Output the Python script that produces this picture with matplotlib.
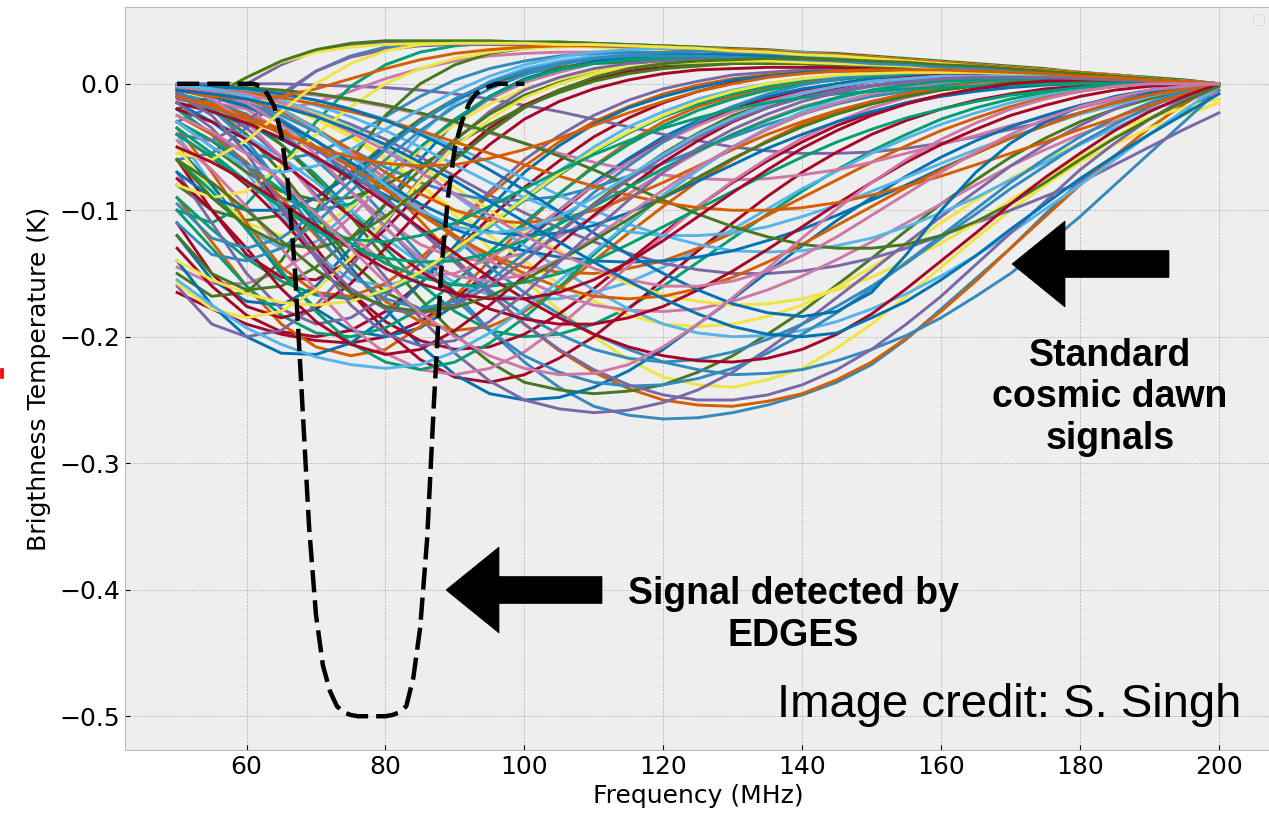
import matplotlib
matplotlib.use("Agg")
import matplotlib.pyplot as plt
from matplotlib.patches import Polygon, Rectangle

FREQ = [50, 55, 60, 65, 70, 75, 80, 85, 90, 95, 100,
        105, 110, 115, 120, 125, 130, 135, 140, 145, 150,
        160, 170, 180, 190, 200]
# extra read-off points in the upper band
MID_FREQ = [155, 165, 175, 185, 195]

# brightness temperature (K) of the standard cosmic dawn signals
SIGNALS = [
    [-0.004, -0.008, -0.016, -0.03, -0.05, -0.075, -0.105, -0.135, -0.165, -0.195, -0.22, -0.24, -0.255, -0.262, -0.265, -0.264, -0.26, -0.254, -0.246, -0.236, -0.222, -0.178, -0.13, -0.077, -0.04, -0.005],
    [-0.165, -0.178, -0.19, -0.198, -0.203, -0.205, -0.2, -0.188, -0.17, -0.148, -0.125, -0.102, -0.08, -0.061, -0.045, -0.031, -0.02, -0.012, -0.005, 0.0, 0.004, 0.008, 0.008, 0.006, 0.003, 0.0],
    [-0.03, -0.018, 0.0, 0.015, 0.026, 0.031, 0.033, 0.033, 0.033, 0.033, 0.032, 0.032, 0.031, 0.03, 0.029, 0.028, 0.027, 0.026, 0.024, 0.023, 0.021, 0.017, 0.013, 0.009, 0.005, 0.0],
    [-0.01, -0.02, -0.04, -0.07, -0.105, -0.14, -0.165, -0.178, -0.175, -0.16, -0.14, -0.117, -0.095, -0.074, -0.055, -0.039, -0.025, -0.016, -0.008, -0.003, 0.002, 0.006, 0.007, 0.006, 0.003, 0.0],
    [-0.002, -0.005, -0.01, -0.02, -0.035, -0.055, -0.08, -0.108, -0.138, -0.165, -0.19, -0.211, -0.228, -0.241, -0.25, -0.254, -0.255, -0.251, -0.245, -0.234, -0.22, -0.18, -0.13, -0.08, -0.035, 0.0],
    [-0.145, -0.158, -0.158, -0.148, -0.13, -0.105, -0.078, -0.052, -0.03, -0.012, 0.001, 0.009, 0.016, 0.019, 0.021, 0.022, 0.021, 0.02, 0.019, 0.018, 0.016, 0.013, 0.01, 0.006, 0.003, 0.0],
    [-0.04, -0.08, -0.115, -0.13, -0.125, -0.1, -0.07, -0.04, -0.015, 0.002, 0.012, 0.018, 0.022, 0.024, 0.025, 0.025, 0.024, 0.023, 0.022, 0.021, 0.019, 0.015, 0.011, 0.008, 0.004, 0.0],
    [-0.01, -0.018, -0.03, -0.048, -0.072, -0.1, -0.13, -0.158, -0.18, -0.195, -0.2, -0.198, -0.19, -0.177, -0.16, -0.141, -0.122, -0.103, -0.085, -0.068, -0.053, -0.028, -0.012, -0.003, 0.0, 0.0],
    [-0.001, -0.003, -0.007, -0.014, -0.025, -0.04, -0.058, -0.08, -0.104, -0.13, -0.155, -0.179, -0.2, -0.218, -0.232, -0.238, -0.24, -0.234, -0.225, -0.209, -0.19, -0.145, -0.1, -0.062, -0.035, -0.015],
    [-0.05, -0.08, -0.115, -0.15, -0.178, -0.195, -0.2, -0.193, -0.175, -0.15, -0.125, -0.1, -0.078, -0.059, -0.042, -0.029, -0.018, -0.01, -0.004, 0.0, 0.004, 0.007, 0.007, 0.005, 0.003, 0.0],
    [-0.06, -0.055, -0.035, -0.01, 0.01, 0.022, 0.029, 0.032, 0.033, 0.033, 0.033, 0.033, 0.032, 0.031, 0.03, 0.029, 0.027, 0.026, 0.024, 0.022, 0.02, 0.016, 0.012, 0.008, 0.004, 0.0],
    [-0.13, -0.16, -0.183, -0.196, -0.2, -0.195, -0.18, -0.158, -0.132, -0.106, -0.082, -0.061, -0.042, -0.027, -0.015, -0.006, 0.001, 0.006, 0.009, 0.011, 0.012, 0.011, 0.009, 0.006, 0.003, 0.0],
    [0.0, 0.0, 0.0, 0.0, -0.001, -0.002, -0.003, -0.005, -0.008, -0.012, -0.017, -0.022, -0.028, -0.034, -0.04, -0.045, -0.05, -0.053, -0.055, -0.055, -0.054, -0.047, -0.036, -0.023, -0.01, 0.0],
    [-0.008, -0.015, -0.028, -0.048, -0.075, -0.105, -0.138, -0.17, -0.198, -0.22, -0.236, -0.242, -0.245, -0.243, -0.238, -0.228, -0.215, -0.198, -0.18, -0.159, -0.138, -0.095, -0.058, -0.03, -0.012, 0.0],
    [-0.09, -0.125, -0.16, -0.19, -0.208, -0.215, -0.21, -0.192, -0.168, -0.14, -0.112, -0.087, -0.065, -0.046, -0.03, -0.018, -0.01, -0.003, 0.002, 0.005, 0.008, 0.009, 0.008, 0.006, 0.003, 0.0],
    [-0.008, -0.015, -0.02, -0.02, -0.015, -0.006, 0.004, 0.012, 0.018, 0.022, 0.024, 0.025, 0.025, 0.025, 0.024, 0.023, 0.022, 0.021, 0.019, 0.018, 0.016, 0.013, 0.01, 0.006, 0.003, 0.0],
    [-0.02, -0.03, -0.042, -0.058, -0.078, -0.1, -0.122, -0.142, -0.157, -0.167, -0.17, -0.17, -0.165, -0.157, -0.145, -0.131, -0.115, -0.099, -0.083, -0.069, -0.055, -0.032, -0.015, -0.005, 0.0, 0.0],
    [-0.09, -0.115, -0.138, -0.156, -0.167, -0.17, -0.165, -0.152, -0.134, -0.113, -0.092, -0.072, -0.054, -0.039, -0.026, -0.016, -0.008, -0.002, 0.003, 0.006, 0.008, 0.009, 0.008, 0.006, 0.003, 0.0],
    [-0.002, -0.004, -0.009, -0.017, -0.028, -0.042, -0.06, -0.08, -0.1, -0.12, -0.14, -0.158, -0.172, -0.183, -0.19, -0.192, -0.19, -0.184, -0.175, -0.161, -0.145, -0.11, -0.075, -0.047, -0.027, -0.012],
    [-0.12, -0.155, -0.172, -0.175, -0.16, -0.13, -0.095, -0.06, -0.03, -0.01, 0.004, 0.012, 0.018, 0.021, 0.022, 0.022, 0.022, 0.021, 0.02, 0.019, 0.017, 0.014, 0.01, 0.007, 0.003, 0.0],
    [-0.003, -0.006, -0.012, -0.022, -0.036, -0.054, -0.075, -0.098, -0.122, -0.145, -0.165, -0.182, -0.198, -0.21, -0.22, -0.226, -0.23, -0.229, -0.226, -0.219, -0.21, -0.185, -0.15, -0.105, -0.055, -0.005],
    [-0.03, -0.045, -0.065, -0.095, -0.13, -0.165, -0.195, -0.218, -0.232, -0.236, -0.23, -0.217, -0.2, -0.178, -0.155, -0.132, -0.11, -0.089, -0.07, -0.054, -0.04, -0.02, -0.008, -0.002, 0.0, 0.0],
    [-0.002, -0.004, -0.008, -0.014, -0.022, -0.032, -0.044, -0.058, -0.073, -0.088, -0.102, -0.114, -0.125, -0.134, -0.142, -0.147, -0.15, -0.15, -0.148, -0.144, -0.138, -0.12, -0.1, -0.078, -0.05, -0.023],
    [-0.08, -0.1, -0.108, -0.104, -0.09, -0.07, -0.048, -0.028, -0.012, 0.0, 0.008, 0.013, 0.016, 0.017, 0.018, 0.018, 0.018, 0.017, 0.016, 0.015, 0.014, 0.011, 0.008, 0.006, 0.003, 0.0],
    [-0.005, -0.01, -0.018, -0.03, -0.045, -0.063, -0.083, -0.103, -0.121, -0.135, -0.145, -0.149, -0.15, -0.146, -0.14, -0.13, -0.118, -0.104, -0.09, -0.076, -0.062, -0.037, -0.018, -0.006, 0.0, 0.0],
    [-0.002, -0.003, -0.004, -0.006, -0.009, -0.013, -0.018, -0.024, -0.031, -0.039, -0.047, -0.055, -0.062, -0.068, -0.072, -0.075, -0.076, -0.075, -0.072, -0.068, -0.062, -0.048, -0.033, -0.019, -0.007, 0.0],
    [-0.02, -0.04, -0.07, -0.105, -0.135, -0.155, -0.16, -0.152, -0.135, -0.112, -0.09, -0.069, -0.05, -0.034, -0.022, -0.012, -0.005, 0.0, 0.004, 0.006, 0.008, 0.009, 0.008, 0.006, 0.003, 0.0],
    [-0.1, -0.11, -0.095, -0.065, -0.03, -0.002, 0.015, 0.025, 0.03, 0.032, 0.032, 0.032, 0.031, 0.03, 0.029, 0.028, 0.026, 0.025, 0.023, 0.021, 0.019, 0.015, 0.011, 0.007, 0.004, 0.0],
    [-0.05, -0.085, -0.11, -0.12, -0.115, -0.098, -0.075, -0.052, -0.032, -0.016, -0.004, 0.004, 0.01, 0.013, 0.015, 0.016, 0.016, 0.016, 0.015, 0.014, 0.013, 0.011, 0.008, 0.005, 0.003, 0.0],
    [-0.015, -0.03, -0.05, -0.078, -0.11, -0.145, -0.178, -0.207, -0.23, -0.245, -0.25, -0.248, -0.24, -0.227, -0.21, -0.19, -0.17, -0.149, -0.128, -0.108, -0.09, -0.058, -0.034, -0.017, -0.006, 0.0],
    [-0.02, -0.04, -0.055, -0.06, -0.055, -0.042, -0.026, -0.01, 0.003, 0.012, 0.018, 0.022, 0.024, 0.025, 0.025, 0.025, 0.024, 0.023, 0.021, 0.02, 0.018, 0.014, 0.011, 0.007, 0.003, 0.0],
    [-0.04, -0.058, -0.08, -0.107, -0.137, -0.165, -0.188, -0.203, -0.21, -0.208, -0.198, -0.182, -0.162, -0.14, -0.118, -0.097, -0.078, -0.061, -0.046, -0.033, -0.023, -0.009, -0.001, 0.002, 0.001, 0.0],
    [-0.07, -0.11, -0.15, -0.178, -0.19, -0.185, -0.168, -0.142, -0.113, -0.085, -0.06, -0.041, -0.025, -0.013, -0.004, 0.002, 0.007, 0.009, 0.011, 0.012, 0.012, 0.011, 0.009, 0.006, 0.003, 0.0],
    [-0.15, -0.168, -0.165, -0.14, -0.1, -0.06, -0.025, 0.0, 0.015, 0.024, 0.028, 0.03, 0.03, 0.029, 0.028, 0.027, 0.025, 0.024, 0.022, 0.02, 0.018, 0.014, 0.01, 0.007, 0.003, 0.0],
    [-0.035, -0.07, -0.11, -0.145, -0.165, -0.168, -0.158, -0.138, -0.113, -0.088, -0.065, -0.046, -0.03, -0.018, -0.008, -0.001, 0.004, 0.007, 0.009, 0.01, 0.01, 0.009, 0.008, 0.005, 0.003, 0.0],
    [-0.003, -0.006, -0.012, -0.022, -0.036, -0.054, -0.075, -0.098, -0.12, -0.14, -0.155, -0.167, -0.175, -0.179, -0.18, -0.178, -0.172, -0.163, -0.152, -0.139, -0.125, -0.095, -0.065, -0.04, -0.02, -0.007],
    [-0.001, -0.003, -0.007, -0.013, -0.022, -0.034, -0.05, -0.068, -0.088, -0.108, -0.128, -0.146, -0.163, -0.178, -0.19, -0.197, -0.2, -0.199, -0.195, -0.188, -0.178, -0.152, -0.118, -0.08, -0.04, -0.002],
    [-0.02, -0.04, -0.065, -0.09, -0.1, -0.095, -0.075, -0.05, -0.028, -0.01, 0.003, 0.011, 0.016, 0.019, 0.02, 0.02, 0.02, 0.019, 0.018, 0.017, 0.016, 0.013, 0.01, 0.007, 0.003, 0.0],
    [-0.003, -0.005, -0.009, -0.015, -0.024, -0.035, -0.049, -0.065, -0.082, -0.1, -0.117, -0.132, -0.146, -0.158, -0.167, -0.172, -0.175, -0.174, -0.17, -0.163, -0.153, -0.126, -0.092, -0.058, -0.027, -0.001],
    [-0.14, -0.175, -0.2, -0.213, -0.214, -0.205, -0.185, -0.158, -0.128, -0.098, -0.07, -0.049, -0.032, -0.019, -0.01, -0.003, 0.003, 0.006, 0.009, 0.01, 0.011, 0.01, 0.008, 0.006, 0.003, 0.0],
    [-0.004, -0.008, -0.015, -0.025, -0.038, -0.052, -0.066, -0.078, -0.087, -0.092, -0.092, -0.089, -0.082, -0.073, -0.063, -0.052, -0.042, -0.032, -0.024, -0.016, -0.01, -0.002, 0.002, 0.002, 0.001, 0.0],
    [-0.06, -0.1, -0.135, -0.153, -0.155, -0.14, -0.115, -0.086, -0.058, -0.035, -0.017, -0.005, 0.004, 0.01, 0.013, 0.015, 0.016, 0.016, 0.016, 0.015, 0.014, 0.012, 0.009, 0.006, 0.003, 0.0],
    [-0.01, -0.02, -0.035, -0.058, -0.088, -0.12, -0.153, -0.185, -0.213, -0.235, -0.25, -0.257, -0.26, -0.258, -0.252, -0.242, -0.228, -0.21, -0.19, -0.169, -0.148, -0.105, -0.065, -0.033, -0.01, 0.0],
    [-0.03, -0.05, -0.07, -0.085, -0.092, -0.09, -0.08, -0.065, -0.048, -0.032, -0.018, -0.007, 0.002, 0.008, 0.012, 0.014, 0.016, 0.016, 0.016, 0.015, 0.014, 0.011, 0.008, 0.006, 0.003, 0.0],
    [-0.025, -0.04, -0.062, -0.09, -0.12, -0.149, -0.172, -0.188, -0.195, -0.192, -0.18, -0.162, -0.14, -0.118, -0.097, -0.077, -0.06, -0.045, -0.032, -0.022, -0.014, -0.003, 0.002, 0.003, 0.002, 0.0],
    [-0.005, -0.01, -0.02, -0.038, -0.06, -0.085, -0.108, -0.127, -0.138, -0.14, -0.134, -0.121, -0.105, -0.087, -0.07, -0.054, -0.04, -0.028, -0.018, -0.011, -0.005, 0.002, 0.005, 0.005, 0.003, 0.0],
    [-0.001, -0.002, -0.004, -0.008, -0.013, -0.02, -0.028, -0.038, -0.05, -0.062, -0.075, -0.088, -0.1, -0.111, -0.12, -0.127, -0.132, -0.133, -0.132, -0.128, -0.122, -0.102, -0.076, -0.048, -0.022, 0.0],
    [-0.1, -0.13, -0.16, -0.183, -0.197, -0.2, -0.193, -0.178, -0.157, -0.133, -0.11, -0.087, -0.066, -0.048, -0.033, -0.021, -0.012, -0.005, 0.0, 0.003, 0.006, 0.008, 0.007, 0.005, 0.003, 0.0],
    [-0.012, -0.008, 0.005, 0.017, 0.025, 0.029, 0.031, 0.032, 0.032, 0.031, 0.03, 0.03, 0.029, 0.028, 0.027, 0.026, 0.025, 0.024, 0.022, 0.021, 0.019, 0.015, 0.012, 0.008, 0.004, 0.0],
    [-0.015, -0.022, -0.032, -0.044, -0.058, -0.073, -0.088, -0.102, -0.115, -0.125, -0.132, -0.137, -0.14, -0.141, -0.14, -0.137, -0.132, -0.124, -0.115, -0.104, -0.092, -0.067, -0.043, -0.023, -0.008, 0.0],
    [-0.004, -0.008, -0.016, -0.028, -0.045, -0.066, -0.09, -0.115, -0.14, -0.163, -0.183, -0.198, -0.21, -0.217, -0.22, -0.218, -0.212, -0.202, -0.19, -0.176, -0.16, -0.122, -0.083, -0.047, -0.018, 0.0],
    [-0.11, -0.15, -0.176, -0.185, -0.178, -0.158, -0.13, -0.1, -0.072, -0.048, -0.028, -0.014, -0.004, 0.003, 0.008, 0.011, 0.012, 0.013, 0.013, 0.013, 0.012, 0.01, 0.008, 0.005, 0.003, 0.0],
    [-0.16, -0.19, -0.2, -0.195, -0.175, -0.145, -0.11, -0.075, -0.045, -0.022, -0.005, 0.005, 0.012, 0.016, 0.018, 0.019, 0.019, 0.019, 0.018, 0.017, 0.016, 0.013, 0.01, 0.006, 0.003, 0.0],
    [-0.12, -0.15, -0.163, -0.16, -0.145, -0.122, -0.095, -0.068, -0.044, -0.024, -0.009, 0.001, 0.008, 0.012, 0.015, 0.016, 0.017, 0.017, 0.016, 0.015, 0.014, 0.011, 0.008, 0.006, 0.003, 0.0],
    [-0.003, -0.006, -0.012, -0.022, -0.036, -0.052, -0.07, -0.087, -0.1, -0.108, -0.11, -0.107, -0.1, -0.09, -0.078, -0.065, -0.052, -0.04, -0.03, -0.021, -0.014, -0.004, 0.001, 0.002, 0.001, 0.0],
    [-0.045, -0.068, -0.097, -0.13, -0.163, -0.192, -0.213, -0.226, -0.23, -0.225, -0.212, -0.192, -0.168, -0.144, -0.12, -0.097, -0.077, -0.059, -0.043, -0.03, -0.019, -0.005, 0.002, 0.003, 0.002, 0.0],
    [-0.001, -0.002, -0.005, -0.01, -0.017, -0.026, -0.037, -0.05, -0.064, -0.078, -0.09, -0.101, -0.11, -0.117, -0.12, -0.12, -0.118, -0.113, -0.105, -0.096, -0.085, -0.063, -0.042, -0.024, -0.01, 0.0],
    [-0.06, -0.085, -0.115, -0.148, -0.18, -0.205, -0.22, -0.226, -0.22, -0.205, -0.185, -0.161, -0.135, -0.111, -0.088, -0.068, -0.05, -0.036, -0.024, -0.015, -0.008, 0.0, 0.003, 0.003, 0.002, 0.0],
    [-0.158, -0.178, -0.185, -0.18, -0.163, -0.138, -0.108, -0.077, -0.05, -0.028, -0.011, 0.0, 0.008, 0.013, 0.016, 0.017, 0.018, 0.018, 0.017, 0.016, 0.015, 0.012, 0.009, 0.006, 0.003, 0.0],
    [-0.07, -0.09, -0.1, -0.1, -0.09, -0.072, -0.05, -0.03, -0.013, 0.0, 0.01, 0.016, 0.02, 0.022, 0.023, 0.023, 0.023, 0.022, 0.021, 0.02, 0.018, 0.014, 0.011, 0.007, 0.003, 0.0],
    [-0.008, -0.014, -0.024, -0.04, -0.06, -0.085, -0.113, -0.142, -0.17, -0.195, -0.215, -0.228, -0.236, -0.239, -0.238, -0.233, -0.225, -0.213, -0.198, -0.181, -0.162, -0.12, -0.078, -0.042, -0.015, 0.0],
    [-0.075, -0.1, -0.13, -0.162, -0.188, -0.206, -0.214, -0.21, -0.195, -0.175, -0.152, -0.127, -0.104, -0.082, -0.062, -0.045, -0.03, -0.019, -0.01, -0.003, 0.002, 0.007, 0.007, 0.005, 0.003, 0.0],
    [-0.012, -0.018, -0.026, -0.037, -0.052, -0.07, -0.092, -0.116, -0.141, -0.166, -0.19, -0.21, -0.226, -0.238, -0.246, -0.25, -0.25, -0.246, -0.238, -0.226, -0.21, -0.168, -0.118, -0.068, -0.028, 0.0],
    [-0.02, -0.01, 0.005, 0.018, 0.027, 0.032, 0.034, 0.034, 0.034, 0.034, 0.033, 0.033, 0.032, 0.031, 0.03, 0.029, 0.028, 0.027, 0.025, 0.024, 0.022, 0.018, 0.014, 0.009, 0.005, 0.0],
    [-0.01, -0.016, -0.025, -0.036, -0.05, -0.066, -0.084, -0.102, -0.12, -0.136, -0.15, -0.161, -0.168, -0.17, -0.168, -0.162, -0.153, -0.141, -0.127, -0.112, -0.097, -0.068, -0.043, -0.023, -0.009, 0.0],
    [-0.003, -0.012, -0.03, -0.058, -0.09, -0.12, -0.142, -0.152, -0.15, -0.138, -0.12, -0.1, -0.08, -0.062, -0.046, -0.033, -0.022, -0.014, -0.007, -0.002, 0.002, 0.006, 0.006, 0.005, 0.003, 0.0],
    [-0.155, -0.175, -0.193, -0.206, -0.216, -0.222, -0.225, -0.222, -0.212, -0.197, -0.178, -0.156, -0.133, -0.11, -0.088, -0.068, -0.05, -0.035, -0.022, -0.012, -0.005, 0.003, 0.005, 0.004, 0.002, 0.0],
    [-0.03, -0.045, -0.063, -0.084, -0.106, -0.126, -0.142, -0.153, -0.159, -0.16, -0.157, -0.15, -0.14, -0.127, -0.113, -0.099, -0.085, -0.071, -0.058, -0.046, -0.036, -0.02, -0.009, -0.003, 0.0, 0.0],
    [-0.08, -0.09, -0.085, -0.065, -0.04, -0.018, 0.0, 0.012, 0.02, 0.025, 0.028, 0.029, 0.03, 0.03, 0.029, 0.028, 0.027, 0.026, 0.024, 0.022, 0.021, 0.017, 0.013, 0.009, 0.004, 0.0],
    [-0.005, -0.01, -0.018, -0.03, -0.045, -0.062, -0.079, -0.095, -0.108, -0.117, -0.12, -0.118, -0.112, -0.102, -0.09, -0.077, -0.064, -0.051, -0.04, -0.03, -0.022, -0.01, -0.003, 0.0, 0.0, 0.0],
    [-0.006, -0.02, -0.045, -0.08, -0.118, -0.15, -0.17, -0.178, -0.172, -0.156, -0.134, -0.11, -0.086, -0.065, -0.046, -0.03, -0.018, -0.008, -0.001, 0.004, 0.007, 0.009, 0.008, 0.006, 0.003, 0.0],
    [-0.02, -0.03, -0.044, -0.062, -0.083, -0.105, -0.127, -0.148, -0.165, -0.178, -0.186, -0.19, -0.19, -0.185, -0.176, -0.163, -0.148, -0.131, -0.113, -0.095, -0.078, -0.048, -0.025, -0.01, -0.002, 0.0],
    [-0.04, -0.045, -0.03, -0.008, 0.01, 0.021, 0.027, 0.03, 0.031, 0.031, 0.031, 0.031, 0.03, 0.029, 0.028, 0.027, 0.026, 0.025, 0.023, 0.021, 0.02, 0.016, 0.012, 0.008, 0.004, 0.0],
    [-0.001, -0.002, -0.003, -0.005, -0.008, -0.012, -0.017, -0.023, -0.03, -0.038, -0.047, -0.057, -0.068, -0.08, -0.092, -0.103, -0.113, -0.121, -0.127, -0.13, -0.13, -0.12, -0.095, -0.06, -0.028, -0.002],
    [-0.002, -0.004, -0.007, -0.011, -0.016, -0.022, -0.029, -0.037, -0.046, -0.055, -0.064, -0.073, -0.081, -0.088, -0.094, -0.098, -0.1, -0.1, -0.098, -0.094, -0.088, -0.073, -0.055, -0.036, -0.017, 0.0],
    [-0.002, -0.006, -0.015, -0.032, -0.056, -0.085, -0.114, -0.138, -0.152, -0.156, -0.151, -0.139, -0.122, -0.103, -0.084, -0.066, -0.05, -0.036, -0.024, -0.015, -0.008, 0.001, 0.004, 0.004, 0.002, 0.0],
    [-0.03, -0.05, -0.065, -0.07, -0.065, -0.052, -0.036, -0.02, -0.006, 0.006, 0.015, 0.021, 0.025, 0.027, 0.028, 0.028, 0.027, 0.026, 0.025, 0.023, 0.021, 0.017, 0.013, 0.009, 0.004, 0.0],
    [-0.04, -0.058, -0.078, -0.098, -0.116, -0.13, -0.138, -0.141, -0.14, -0.134, -0.124, -0.111, -0.097, -0.082, -0.067, -0.053, -0.04, -0.029, -0.019, -0.011, -0.005, 0.002, 0.004, 0.004, 0.002, 0.0],
    [-0.14, -0.155, -0.166, -0.173, -0.175, -0.172, -0.163, -0.149, -0.131, -0.111, -0.091, -0.071, -0.053, -0.038, -0.025, -0.014, -0.006, 0.0, 0.004, 0.007, 0.008, 0.009, 0.008, 0.005, 0.003, 0.0],
    [-0.001, -0.002, -0.004, -0.008, -0.013, -0.02, -0.029, -0.04, -0.053, -0.068, -0.084, -0.101, -0.118, -0.135, -0.15, -0.163, -0.174, -0.181, -0.184, -0.18, -0.165, -0.1, -0.047, -0.018, -0.005, 0.0],
    [-0.11, -0.135, -0.14, -0.13, -0.11, -0.085, -0.06, -0.037, -0.018, -0.004, 0.007, 0.015, 0.02, 0.023, 0.025, 0.026, 0.025, 0.024, 0.023, 0.021, 0.019, 0.015, 0.011, 0.007, 0.004, 0.0],
    [-0.015, -0.022, -0.031, -0.043, -0.058, -0.075, -0.094, -0.114, -0.134, -0.153, -0.17, -0.185, -0.198, -0.208, -0.215, -0.219, -0.22, -0.217, -0.21, -0.198, -0.182, -0.14, -0.095, -0.055, -0.022, 0.0],
    [-0.015, -0.035, -0.065, -0.1, -0.135, -0.162, -0.178, -0.182, -0.175, -0.16, -0.14, -0.118, -0.096, -0.076, -0.058, -0.042, -0.029, -0.019, -0.011, -0.005, -0.001, 0.004, 0.005, 0.004, 0.002, 0.0],
    [-0.06, -0.078, -0.1, -0.124, -0.147, -0.165, -0.176, -0.18, -0.177, -0.168, -0.155, -0.14, -0.124, -0.107, -0.09, -0.074, -0.059, -0.046, -0.034, -0.024, -0.016, -0.005, 0.001, 0.002, 0.001, 0.0],
    [-0.005, -0.01, -0.012, -0.01, -0.004, 0.004, 0.012, 0.019, 0.024, 0.027, 0.029, 0.03, 0.03, 0.03, 0.029, 0.028, 0.027, 0.026, 0.024, 0.023, 0.021, 0.017, 0.013, 0.009, 0.004, 0.0],
    [-0.002, -0.004, -0.008, -0.015, -0.025, -0.038, -0.053, -0.07, -0.087, -0.104, -0.12, -0.134, -0.146, -0.155, -0.16, -0.16, -0.156, -0.148, -0.136, -0.121, -0.104, -0.07, -0.04, -0.018, -0.005, 0.0],
    [-0.001, -0.004, -0.01, -0.02, -0.036, -0.057, -0.08, -0.1, -0.113, -0.118, -0.115, -0.105, -0.09, -0.073, -0.056, -0.04, -0.027, -0.016, -0.008, -0.002, 0.002, 0.006, 0.006, 0.005, 0.003, 0.0],
    [-0.035, -0.055, -0.077, -0.098, -0.114, -0.123, -0.125, -0.12, -0.11, -0.097, -0.083, -0.069, -0.056, -0.045, -0.035, -0.027, -0.02, -0.015, -0.011, -0.008, -0.006, -0.003, -0.001, 0.0, 0.0, 0.0],
    [-0.055, -0.06, -0.045, -0.022, 0.0, 0.016, 0.026, 0.031, 0.032, 0.032, 0.032, 0.031, 0.031, 0.03, 0.029, 0.028, 0.026, 0.025, 0.023, 0.022, 0.02, 0.016, 0.012, 0.008, 0.004, 0.0],
    [-0.005, -0.008, -0.012, -0.018, -0.026, -0.036, -0.048, -0.062, -0.077, -0.093, -0.109, -0.125, -0.141, -0.156, -0.17, -0.182, -0.192, -0.198, -0.2, -0.197, -0.185, -0.155, -0.115, -0.075, -0.04, -0.008],
    [-0.095, -0.122, -0.13, -0.122, -0.102, -0.077, -0.052, -0.03, -0.012, 0.001, 0.01, 0.016, 0.02, 0.022, 0.022, 0.022, 0.021, 0.02, 0.019, 0.018, 0.016, 0.013, 0.01, 0.006, 0.003, 0.0],
    [-0.05, -0.062, -0.077, -0.094, -0.112, -0.13, -0.146, -0.158, -0.166, -0.17, -0.17, -0.165, -0.155, -0.141, -0.124, -0.105, -0.086, -0.068, -0.051, -0.037, -0.025, -0.009, 0.0, 0.003, 0.002, 0.0],
    [-0.008, -0.025, -0.055, -0.095, -0.138, -0.175, -0.198, -0.207, -0.203, -0.188, -0.166, -0.141, -0.116, -0.092, -0.07, -0.051, -0.036, -0.024, -0.014, -0.007, -0.002, 0.004, 0.005, 0.004, 0.002, 0.0],
    [-0.06, -0.09, -0.113, -0.127, -0.13, -0.122, -0.105, -0.083, -0.06, -0.038, -0.019, -0.005, 0.005, 0.012, 0.016, 0.018, 0.019, 0.02, 0.02, 0.019, 0.018, 0.015, 0.012, 0.008, 0.004, 0.0],
    [-0.01, -0.018, -0.028, -0.039, -0.05, -0.058, -0.063, -0.065, -0.064, -0.059, -0.052, -0.043, -0.033, -0.023, -0.014, -0.006, 0.0, 0.005, 0.008, 0.01, 0.011, 0.011, 0.009, 0.006, 0.003, 0.0],
    [-0.025, -0.038, -0.055, -0.077, -0.103, -0.13, -0.157, -0.181, -0.2, -0.215, -0.225, -0.23, -0.229, -0.222, -0.208, -0.19, -0.169, -0.146, -0.122, -0.099, -0.078, -0.044, -0.02, -0.006, 0.0, 0.0],
]

# values of the same signals at MID_FREQ (one row per signal, same order)
SIGNALS_MID = [
    [-0.202, -0.154, -0.103, -0.058, -0.022],
    [0.006, 0.008, 0.007, 0.005, 0.002],
    [0.019, 0.015, 0.011, 0.007, 0.003],
    [0.004, 0.007, 0.007, 0.005, 0.002],
    [-0.201, -0.156, -0.105, -0.057, -0.016],
    [0.015, 0.012, 0.008, 0.005, 0.002],
    [0.017, 0.013, 0.01, 0.006, 0.002],
    [-0.04, -0.019, -0.007, -0.001, 0.0],
    [-0.168, -0.122, -0.08, -0.048, -0.025],
    [0.006, 0.007, 0.006, 0.004, 0.002],
    [0.018, 0.014, 0.01, 0.006, 0.002],
    [0.012, 0.01, 0.008, 0.005, 0.002],
    [-0.051, -0.042, -0.03, -0.016, -0.005],
    [-0.116, -0.076, -0.043, -0.02, -0.005],
    [0.009, 0.009, 0.007, 0.005, 0.002],
    [0.015, 0.012, 0.008, 0.005, 0.002],
    [-0.043, -0.023, -0.009, -0.002, 0.0],
    [0.009, 0.009, 0.007, 0.005, 0.002],
    [-0.128, -0.092, -0.06, -0.036, -0.019],
    [0.016, 0.012, 0.009, 0.005, 0.002],
    [-0.199, -0.168, -0.128, -0.08, -0.03],
    [-0.029, -0.013, -0.004, -0.001, 0.0],
    [-0.13, -0.11, -0.089, -0.064, -0.036],
    [0.013, 0.01, 0.007, 0.005, 0.002],
    [-0.049, -0.027, -0.011, -0.002, 0.0],
    [-0.055, -0.041, -0.026, -0.013, -0.003],
    [0.009, 0.009, 0.007, 0.005, 0.002],
    [0.017, 0.013, 0.009, 0.005, 0.002],
    [0.012, 0.01, 0.007, 0.004, 0.002],
    [-0.073, -0.045, -0.025, -0.011, -0.002],
    [0.016, 0.013, 0.009, 0.005, 0.002],
    [-0.015, -0.004, 0.001, 0.002, 0.001],
    [0.012, 0.01, 0.008, 0.005, 0.002],
    [0.016, 0.012, 0.009, 0.005, 0.002],
    [0.01, 0.009, 0.007, 0.004, 0.002],
    [-0.11, -0.08, -0.052, -0.03, -0.013],
    [-0.166, -0.136, -0.099, -0.06, -0.021],
    [0.015, 0.012, 0.008, 0.005, 0.002],
    [-0.14, -0.11, -0.075, -0.042, -0.013],
    [0.011, 0.009, 0.007, 0.005, 0.002],
    [-0.006, 0.0, 0.002, 0.002, 0.001],
    [0.013, 0.011, 0.008, 0.005, 0.002],
    [-0.126, -0.085, -0.048, -0.02, -0.004],
    [0.013, 0.01, 0.007, 0.005, 0.002],
    [-0.008, 0.0, 0.003, 0.003, 0.001],
    [-0.001, 0.004, 0.005, 0.004, 0.002],
    [-0.113, -0.09, -0.062, -0.035, -0.01],
    [0.007, 0.008, 0.006, 0.004, 0.002],
    [0.017, 0.014, 0.01, 0.006, 0.002],
    [-0.08, -0.055, -0.033, -0.015, -0.003],
    [-0.142, -0.103, -0.065, -0.032, -0.008],
    [0.011, 0.009, 0.007, 0.004, 0.002],
    [0.015, 0.012, 0.008, 0.005, 0.002],
    [0.013, 0.01, 0.007, 0.005, 0.002],
    [-0.008, -0.001, 0.002, 0.002, 0.001],
    [-0.011, -0.001, 0.003, 0.003, 0.001],
    [-0.074, -0.052, -0.033, -0.017, -0.004],
    [-0.003, 0.002, 0.003, 0.003, 0.001],
    [0.014, 0.011, 0.008, 0.005, 0.002],
    [0.016, 0.013, 0.009, 0.005, 0.002],
    [-0.141, -0.099, -0.059, -0.027, -0.006],
    [0.005, 0.007, 0.006, 0.004, 0.002],
    [-0.19, -0.143, -0.093, -0.047, -0.012],
    [0.02, 0.016, 0.012, 0.007, 0.003],
    [-0.082, -0.055, -0.033, -0.015, -0.004],
    [0.004, 0.006, 0.006, 0.004, 0.002],
    [-0.001, 0.004, 0.005, 0.003, 0.001],
    [-0.027, -0.014, -0.006, -0.001, 0.0],
    [0.019, 0.015, 0.011, 0.007, 0.002],
    [-0.015, -0.006, -0.001, 0.0, 0.0],
    [0.008, 0.009, 0.007, 0.005, 0.002],
    [-0.062, -0.036, -0.017, -0.005, -0.001],
    [0.018, 0.014, 0.01, 0.006, 0.002],
    [-0.127, -0.109, -0.078, -0.043, -0.014],
    [-0.081, -0.064, -0.046, -0.027, -0.008],
    [-0.003, 0.003, 0.004, 0.003, 0.001],
    [0.019, 0.015, 0.011, 0.007, 0.002],
    [-0.001, 0.003, 0.004, 0.003, 0.001],
    [0.009, 0.009, 0.007, 0.004, 0.002],
    [-0.135, -0.07, -0.03, -0.01, -0.002],
    [0.017, 0.013, 0.009, 0.005, 0.002],
    [-0.162, -0.118, -0.074, -0.037, -0.01],
    [0.002, 0.005, 0.005, 0.003, 0.001],
    [-0.01, -0.002, 0.002, 0.002, 0.001],
    [0.019, 0.015, 0.011, 0.007, 0.002],
    [-0.087, -0.054, -0.028, -0.011, -0.002],
    [0.004, 0.006, 0.006, 0.004, 0.002],
    [-0.004, -0.002, 0.0, 0.0, 0.0],
    [0.018, 0.014, 0.01, 0.006, 0.002],
    [-0.172, -0.136, -0.095, -0.057, -0.024],
    [0.015, 0.012, 0.008, 0.005, 0.002],
    [-0.016, -0.004, 0.002, 0.003, 0.001],
    [0.001, 0.005, 0.005, 0.003, 0.001],
    [0.017, 0.014, 0.01, 0.006, 0.002],
    [0.011, 0.01, 0.008, 0.005, 0.002],
    [-0.06, -0.031, -0.012, -0.002, 0.0],
]

# EDGES flattened absorption profile
EDGES_FREQ = list(range(50, 101))
EDGES_TEMP = [0.0] * 12 + [
    -0.002, -0.008, -0.018, -0.04, -0.08, -0.15, -0.25, -0.35, -0.42, -0.46,
    -0.48, -0.492, -0.497, -0.499, -0.5, -0.5, -0.5, -0.5, -0.5, -0.499,
    -0.497, -0.492, -0.47, -0.43, -0.36, -0.25, -0.15, -0.09, -0.05, -0.03,
    -0.016, -0.008, -0.004, -0.002] + [0.0] * 5

W, H = 1269, 814

plt.style.use("bmh")
fig = plt.figure(figsize=(W / 100, H / 100), dpi=100)
ax = fig.add_axes([125 / W, 64 / H, 1146 / W, 743 / H])

for temps, mids in zip(SIGNALS, SIGNALS_MID):
    pts = sorted(zip(FREQ + MID_FREQ, temps + mids))
    f, t = zip(*pts)
    ax.plot(f, t, lw=2.1)
ax.plot(EDGES_FREQ, EDGES_TEMP, color="black", lw=3.2,
        linestyle=(0, (5, 1.8)), zorder=5)

ax.set_xlabel("Frequency (MHz)", fontsize=18, labelpad=4)
ax.set_ylabel("Brigthness Temperature (K)", fontsize=18, labelpad=6)
ax.tick_params(labelsize=18)
ax.legend(handles=[], loc="upper right")

ax.text(184.3, -0.248, "Standard\ncosmic dawn\nsignals", ha="center",
        va="center", fontsize=27, fontweight="bold",
        family="Liberation Sans", linespacing=1.2, zorder=6)
ax.text(138.7, -0.42, "Signal detected by\nEDGES", ha="center",
        va="center", fontsize=27, fontweight="bold",
        family="Liberation Sans", linespacing=1.2, zorder=6)
ax.text(169.8, -0.491, "Image credit: S. Singh", ha="center",
        va="center", fontsize=34, family="Liberation Sans", zorder=6)


def block_arrow(tip_x, tail_x, yc, shaft=27, head=86, head_len=53):
    # pixel coords (from top-left) -> figure fraction
    pts = [(tip_x, yc), (tip_x + head_len, yc - head / 2),
           (tip_x + head_len, yc - shaft / 2), (tail_x, yc - shaft / 2),
           (tail_x, yc + shaft / 2), (tip_x + head_len, yc + shaft / 2),
           (tip_x + head_len, yc + head / 2)]
    pts = [(x / W, 1 - y / H) for x, y in pts]
    fig.patches.append(Polygon(pts, closed=True, color="black",
                               transform=fig.transFigure, zorder=10))


block_arrow(1012, 1169, 264)
block_arrow(446, 602, 590)

# small red mark at the left edge
fig.patches.append(Rectangle((0, 1 - 378 / H), 3 / W, 10 / H, color="red",
                             transform=fig.transFigure))

fig.savefig("out.png", dpi=100)
